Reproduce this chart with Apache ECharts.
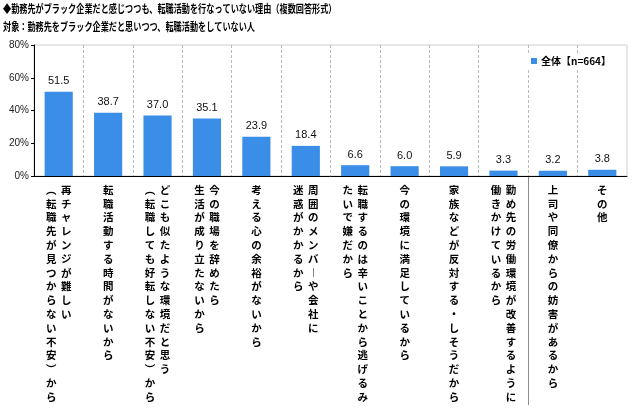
<!DOCTYPE html>
<html>
<head>
<meta charset="utf-8">
<script src="https://cdn.jsdelivr.net/npm/echarts@6/dist/echarts.min.js"></script>
<style>html,body{margin:0;padding:0;background:#fff}#c{width:640px;height:410px}</style>
</head>
<body>
<div id="c"></div>
<script>
const titleLine1 = '◆勤務先がブラック企業だと感じつつも、転職活動を行なっていない理由（複数回答形式）';
const titleLine2 = '対象：勤務先をブラック企業だと思いつつ、転職活動をしていない人';
const seriesName = '全体【n=664】';
// each category: [right column, left column] in vertical writing
const labelColumns = [
  ['再チャレンジが難しい', '︵転職先が見つからない不安︶から'],
  ['転職活動する時間がないから'],
  ['どこも似たような環境だと思う', '︵転職しても好転しない不安︶から'],
  ['今の職場を辞めたら', '生活が成り立たないから'],
  ['考える心の余裕がないから'],
  ['周囲のメンバ︱や会社に', '迷惑がかかるから'],
  ['転職するのは辛いことから逃げるみ', 'たいで嫌だから'],
  ['今の環境に満足しているから'],
  ['家族などが反対する・しそうだから'],
  ['勤め先の労働環境が改善するように', '働きかけているから'],
  ['上司や同僚からの妨害があるから'],
  ['その他']
];
const values = [51.5, 38.7, 37.0, 35.1, 23.9, 18.4, 6.6, 6.0, 5.9, 3.3, 3.2, 3.8];
const yTicks = { min: 0, max: 80, interval: 20 };

const categories = labelColumns.map(c => c.join(''));
const FONT = '"Noto Sans CJK JP", "Noto Sans CJK SC", sans-serif';

function verticalLabel(cols) {
  const right = Array.from(cols[0]);
  const left = cols[1] ? Array.from(cols[1]) : null;
  const n = Math.max(right.length, left ? left.length : 0);
  const lines = [];
  for (let i = 0; i < n; i++) {
    if (left) lines.push('{c|' + (left[i] || '　') + '}{c|' + (right[i] || '　') + '}');
    else lines.push('{c|' + right[i] + '}');
  }
  return lines.join('\n');
}

const chart = echarts.init(document.getElementById('c'));
chart.setOption({
  animation: false,
  backgroundColor: '#fff',
  graphic: [
    { type: 'text', x: 3, y: 3, scaleX: 0.74, style: { text: titleLine1, font: 'bold 11px ' + FONT, fill: '#000', textVerticalAlign: 'top' } },
    { type: 'text', x: 3, y: 21, scaleX: 0.74, style: { text: titleLine2, font: 'bold 11px ' + FONT, fill: '#000', textVerticalAlign: 'top' } }
  ],
  legend: {
    left: 527, top: 54, padding: [2, 4], backgroundColor: '#fff',
    itemWidth: 6, itemHeight: 6, itemGap: 4, icon: 'rect',
    textStyle: { fontSize: 10, fontFamily: FONT, fontWeight: 'bold', color: '#000', padding: [0, 0, 0, -1] },
    data: [seriesName]
  },
  grid: [
    { left: 34, right: 13, top: 45, bottom: 234, show: true, borderColor: '#d0d0d0', borderWidth: 1 },
    { left: 34, right: 13, top: 176, height: 229, show: false }
  ],
  xAxis: [
    {
      type: 'category', gridIndex: 0, data: categories,
      axisLine: { lineStyle: { color: '#000', width: 1 } },
      axisTick: { show: false },
      splitLine: { show: true, showMinLine: false, showMaxLine: false, lineStyle: { color: '#b8b8b8', type: [3, 2], width: 1 } },
      axisLabel: {
        interval: 0, margin: 7,
        formatter: (v, i) => verticalLabel(labelColumns[i]),
        rich: { c: { width: 15, align: 'center', fontSize: 10.5, lineHeight: 13.8, fontFamily: FONT, fontWeight: 'bold', color: '#000' } }
      }
    },
    {
      type: 'category', gridIndex: 1, data: categories,
      axisLine: { show: false }, axisTick: { show: false }, axisLabel: { show: false },
      splitLine: { show: true, showMinLine: false, showMaxLine: false, lineStyle: { color: '#8c8c8c', width: 1 } }
    }
  ],
  yAxis: [
    {
      type: 'value', gridIndex: 0, min: yTicks.min, max: yTicks.max, interval: yTicks.interval,
      axisLine: { show: true, lineStyle: { color: '#000', width: 1 } },
      axisTick: { show: true, length: 3, lineStyle: { color: '#000' } },
      splitLine: { show: false },
      axisLabel: { formatter: '{value}%', fontSize: 10, fontFamily: 'Arial, "Liberation Sans", sans-serif', color: '#222', margin: 5 }
    },
    { type: 'value', gridIndex: 1, show: false }
  ],
  series: [{
    name: seriesName, type: 'bar', xAxisIndex: 0, yAxisIndex: 0,
    data: values, barWidth: '57%',
    itemStyle: { color: '#3a8ee8' },
    label: { show: true, position: 'top', distance: 5, formatter: p => p.value.toFixed(1), fontSize: 11, fontFamily: 'Arial, "Liberation Sans", sans-serif', color: '#111' }
  }]
});
</script>
</body>
</html>
